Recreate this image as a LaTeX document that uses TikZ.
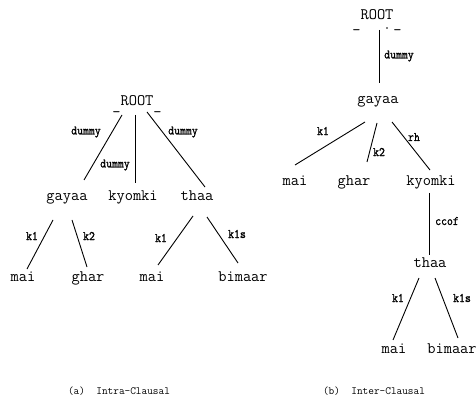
\documentclass[tikz,border=0pt]{standalone}
\usepackage{fontspec}
\newfontfamily\relfont[FakeStretch=0.88,FakeBold=1.2]{Latin Modern Mono}

\tikzset{
  word/.style={font=\ttfamily\fontsize{16}{16}\selectfont, inner sep=0pt, text height=6.9pt, text depth=0pt},
  rootword/.style={word, text height=9.8pt},
  rel/.style={font=\relfont\fontsize{13}{13}\selectfont, inner sep=0pt},
  capt/.style={font=\ttfamily\fontsize{11}{11}\selectfont, inner sep=0pt},
  dep/.style={line width=0.9pt}
}

\begin{document}
\begin{tikzpicture}[x=1pt,y=-1pt]
    \useasboundingbox (0,0) rectangle (476,403);

    % (a) intra-clausal tree, words
    \node[rootword] (ra) at (137,101) {\raisebox{-4pt}{\_}ROOT\raisebox{-4pt}{\_}};
    \node[word] (gaa) at (67,197) {gayaa};
    \node[word] (kya) at (133,197) {kyomki};
    \node[word] (tha) at (197,197) {thaa};
    \node[word] (maa) at (23,278) {mai};
    \node[word] (gha) at (88,278) {ghar};
    \node[word] (mab) at (152,278) {mai};
    \node[word] (bia) at (243,278) {bimaar};

    % (a) arcs
    \draw[dep] ([shift={(-15,14)}]ra.center) -- ([shift={(17,-17)}]gaa.center);
    \draw[dep] ([shift={(-2,14)}]ra.center) -- ([shift={(2,-14)}]kya.center);
    \draw[dep] ([shift={(10,11)}]ra.center) -- ([shift={(8,-10)}]tha.center);
    \draw[dep] ([shift={(-14,23)}]gaa.center) -- ([shift={(4,-9)}]maa.center);
    \draw[dep] ([shift={(5,23)}]gaa.center) -- ([shift={(-1,-11)}]gha.center);
    \draw[dep] ([shift={(-4,19)}]tha.center) -- ([shift={(6,-13)}]mab.center);
    \draw[dep] ([shift={(10,20)}]tha.center) -- ([shift={(-5,-15)}]bia.center);

    % (a) arc labels
    \node[rel] (la1) at (86,132) {dummy};
    \node[rel] (la2) at (115,165) {dummy};
    \node[rel] (la3) at (183,132) {dummy};
    \node[rel] (la4) at (32,236) {k1};
    \node[rel] (la5) at (89,236) {k2};
    \node[rel] (la6) at (161,238) {k1};
    \node[rel] (la7) at (237,234) {k1s};

    % (b) inter-clausal tree, words
    \node[rootword] (rb) at (377,15) {\raisebox{-7.5pt}{\_}ROOT\raisebox{-7.5pt}{\_}};
    \node[word] (gab) at (378,100) {gayaa};
    \node[word] (mac) at (295,182) {mai};
    \node[word] (ghb) at (354,182) {ghar};
    \node[word] (kyb) at (431,182) {kyomki};
    \node[word] (thb) at (430,264) {thaa};
    \node[word] (mad) at (394,350) {mai};
    \node[word] (bib) at (452,350) {bimaar};
    \fill ([shift={(10,13)}]rb.center) circle (0.8);

    % (b) arcs
    \draw[dep] ([shift={(2,15)}]rb.center) -- ([shift={(1,-17)}]gab.center);
    \draw[dep] ([shift={(-13,22)}]gab.center) -- ([shift={(0,-17)}]mac.center);
    \draw[dep] ([shift={(-1,23)}]gab.center) -- ([shift={(13,-20)}]ghb.center);
    \draw[dep] ([shift={(14,22)}]gab.center) -- ([shift={(-1,-12)}]kyb.center);
    \draw[dep] ([shift={(-2,11)}]kyb.center) -- ([shift={(-1,-9)}]thb.center);
    \draw[dep] ([shift={(-11,14)}]thb.center) -- ([shift={(-1,-10)}]mad.center);
    \draw[dep] ([shift={(5,14)}]thb.center) -- ([shift={(6,-12)}]bib.center);

    % (b) arc labels
    \node[rel] (lb1) at (399,56) {dummy};
    \node[rel] (lb2) at (323,131) {k1};
    \node[rel] (lb3) at (379,152) {k2};
    \node[rel] (lb4) at (414,137) {rh};
    \node[rel] (lb5) at (447,221) {ccof};
    \node[rel] (lb6) at (398,298) {k1};
    \node[rel] (lb7) at (462,298) {k1s};

    % captions
    \node[capt] (ca) at (119,391) {(a)\ \ Intra-Clausal};
    \node[capt] (cb) at (374,391) {(b)\ \ Inter-Clausal};
\end{tikzpicture}
\end{document}
